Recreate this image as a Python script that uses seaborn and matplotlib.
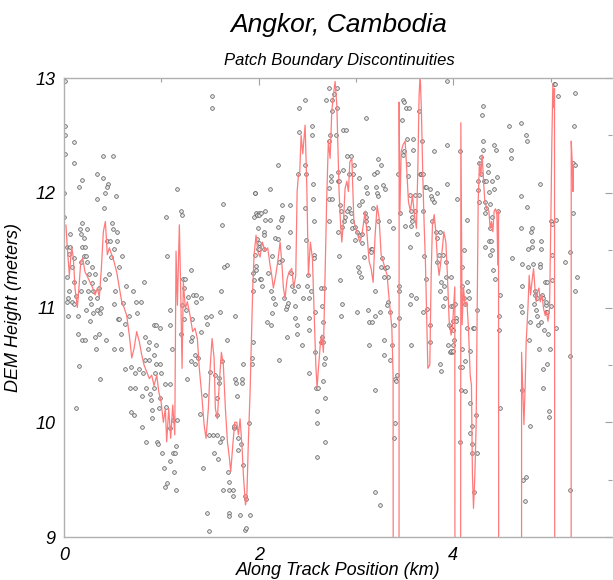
import numpy as np
import pandas as pd
import matplotlib
matplotlib.use("Agg")
import matplotlib.pyplot as plt
from matplotlib.ticker import MultipleLocator
import seaborn as sns

# scattered DEM samples, west part (0 - 2 km)
km_west = [0.01,0.01,0.01,0.01,0.00,0.00,0.10,0.10,0.40,0.50,
           0.34,0.40,0.19,0.15,0.45,0.44,0.42,0.34,0.53,0.41,
           0.18,0.16,0.24,0.17,0.21,0.06,0.49,0.50,0.54,0.44,
           0.47,0.54,0.03,0.06,0.19,0.22,0.05,0.10,0.21,0.23,
           0.51,0.48,0.60,0.17,0.24,0.08,0.29,0.57,0.03,0.26,
           0.32,0.46,0.10,0.21,0.29,0.42,0.64,0.05,0.17,0.25,
           0.30,0.36,0.52,0.71,0.82,0.04,0.08,0.03,0.12,0.27,
           0.34,0.10,0.28,0.38,0.34,0.37,0.51,0.61,0.74,0.79,
           0.04,0.14,0.23,0.30,0.67,0.75,0.55,0.57,0.27,0.63,
           0.14,0.36,0.59,0.92,0.95,1.09,0.99,0.18,0.22,0.43,
           0.32,0.87,0.83,0.33,0.51,0.59,0.86,0.95,0.92,1.11,
           0.15,0.37,0.63,0.69,0.77,0.83,0.87,0.95,0.99,1.00,
           0.93,0.81,0.73,0.68,0.73,0.80,0.84,0.88,0.89,0.92,
           0.99,1.04,1.09,0.12,0.69,0.72,0.80,0.90,0.90,0.98,
           1.05,1.12,1.16,1.09,0.84,0.96,0.97,1.01,1.12,1.14,
           1.09,1.15,1.13,1.03,1.06,1.04,1.15,1.05,1.06,1.16,
           1.20,1.21,1.09,1.20,1.22,1.24,1.23,1.27,1.21,1.25,
           1.23,1.31,1.33,1.36,1.36,1.41,1.30,1.30,1.32,1.35,
           1.30,1.35,1.38,1.26,1.41,1.46,1.47,1.51,1.40,1.45,
           1.43,1.47,1.49,1.49,1.53,1.57,1.54,1.58,1.60,1.62,
           1.63,1.57,1.57,1.50,1.55,1.59,1.59,1.62,1.60,1.61,
           1.64,1.62,1.63,1.67,1.67,1.68,1.69,1.70,1.70,1.69,
           1.74,1.74,1.75,1.75,1.79,1.79,1.82,1.84,1.76,1.76,
           1.77,1.78,1.83,1.83,1.84,1.81,1.86,1.87,1.86,1.87,
           1.90,1.91,1.93,1.93,1.94,1.94,1.95,1.94,1.95,1.97,
           2.00,1.96,1.52,1.52,1.99,2.00,2.01]
m_west = [12.97,12.58,12.50,12.34,12.00,11.79,12.44,12.26,12.32,12.32,
          12.16,12.13,12.11,12.05,12.08,12.05,12.00,11.95,11.97,11.87,
          11.74,11.68,11.68,11.64,11.61,11.64,11.74,11.68,11.66,11.58,
          11.58,11.58,11.53,11.53,11.53,11.53,11.47,11.43,11.45,11.45,
          11.51,11.44,11.45,11.40,11.40,11.35,11.35,11.35,11.27,11.29,
          11.29,11.29,11.22,11.22,11.21,11.25,11.19,11.14,11.14,11.14,
          11.14,11.17,11.14,11.14,11.22,11.08,11.05,11.05,11.10,11.08,
          11.08,11.03,11.03,11.00,10.98,10.95,11.03,11.04,11.05,11.05,
          10.93,10.93,10.98,10.95,10.93,10.95,10.90,10.90,10.88,10.86,
          10.77,10.77,10.77,10.85,10.85,10.85,10.82,10.72,10.72,10.72,
          10.74,10.70,10.74,10.64,10.64,10.64,10.64,10.67,10.59,10.64,
          10.49,10.38,10.46,10.48,10.46,10.54,10.54,10.51,10.51,10.43,
          10.43,10.43,10.43,10.30,10.30,10.23,10.30,10.25,10.19,10.30,
          10.21,10.33,10.33,10.12,10.09,10.06,9.96,10.11,10.04,10.12,
          10.13,10.02,10.02,9.95,9.83,9.83,9.81,9.73,9.73,9.73,
          9.66,9.79,9.57,9.60,9.47,9.44,9.41,11.79,11.45,12.03,
          11.84,11.81,10.98,10.77,11.25,11.25,11.17,11.09,11.02,10.98,
          10.90,10.90,11.11,11.11,11.05,11.08,11.33,10.71,10.74,10.59,
          10.53,10.51,10.56,10.38,10.79,10.92,10.86,10.93,10.07,10.24,
          9.60,9.21,9.05,9.89,9.89,9.89,9.73,9.68,9.83,9.86,
          9.41,10.06,10.21,10.44,10.41,10.39,10.34,10.53,10.96,11.14,
          11.35,11.72,11.90,11.37,10.72,9.57,9.48,9.21,9.18,9.41,
          9.41,9.36,9.95,9.97,9.86,9.76,9.81,9.63,10.93,10.38,
          10.34,10.23,10.38,10.34,10.51,9.19,9.36,9.33,9.06,9.08,
          9.99,9.19,10.51,10.56,10.70,11.14,11.24,11.30,11.79,11.82,
          11.82,12.00,12.84,12.74,11.51,11.53,11.25]

# scattered DEM samples, middle part (2 - 4 km)
km_mid = [1.96,1.98,2.00,2.02,2.07,2.07,2.12,2.12,2.20,2.24,
          2.24,2.23,2.32,2.30,2.32,1.99,2.05,1.98,2.00,2.00,
          2.05,2.05,1.96,1.97,1.97,2.02,2.03,2.10,2.14,2.17,
          2.20,2.20,2.21,2.24,2.15,2.13,2.17,2.14,2.13,2.09,
          2.21,2.26,2.28,2.29,2.30,2.29,2.33,2.34,2.36,2.37,
          2.37,2.39,2.39,2.40,2.44,2.46,2.41,2.41,2.48,2.48,
          2.49,2.40,2.48,2.49,2.50,2.51,2.52,2.52,2.52,2.52,
          2.54,2.55,2.55,2.56,2.56,2.57,2.57,2.57,2.58,2.58,
          2.59,2.61,2.60,2.60,2.60,2.64,2.67,2.65,2.65,2.64,
          2.66,2.66,2.67,2.68,2.66,2.68,2.68,2.69,2.72,2.75,
          2.77,2.80,2.80,2.72,2.72,2.72,2.72,2.73,2.75,2.74,
          2.74,2.75,2.79,2.81,2.82,2.83,2.87,2.87,2.90,2.91,
          2.93,2.95,2.97,2.98,2.82,2.83,2.84,2.85,2.86,2.84,
          2.85,2.86,2.88,2.89,2.91,2.93,2.95,2.96,2.96,2.99,
          2.99,3.01,3.03,3.03,3.04,3.06,3.06,3.02,3.03,3.05,
          3.01,3.06,3.08,3.10,3.10,3.11,3.09,3.10,3.10,3.12,
          3.15,3.16,3.15,3.13,3.12,3.13,3.16,3.17,3.18,3.19,
          3.19,3.20,3.21,3.22,3.22,3.23,3.26,3.23,3.23,3.25,
          3.26,3.27,3.28,3.30,3.29,3.30,3.29,3.29,3.32,3.33,
          3.33,3.32,3.34,3.35,3.35,3.37,3.38,3.39,3.40,3.41,
          3.42,3.39,3.40,3.19,3.25,3.44,3.44,3.44,3.43,3.45,
          3.47,3.48,3.49,3.51,3.54,3.49,3.48,3.52,3.53,3.53,
          3.50,3.56,3.55,3.56,3.58,3.58,3.57,3.55,3.55,3.57,
          3.59,3.59,3.61,3.61,3.62,3.63,3.65,3.65,3.68,3.66,
          3.67,3.69,3.69,3.69,3.70,3.71,3.72,3.72,3.73,3.76,
          3.76,3.76,3.77,3.78,3.80,3.80,3.78,3.82,3.83,3.83,
          3.83,3.85,3.86,3.86,3.86,3.87,3.87,3.89,3.89,3.90,
          3.91,3.92,3.93,3.93,3.93,3.92,3.96,3.98,3.95,3.97,
          3.99,4.00]
m_mid = [12.00,11.81,11.81,11.82,11.84,11.76,11.76,12.03,12.24,11.89,
         11.79,11.76,11.89,11.53,11.66,11.69,11.66,11.60,11.56,11.51,
         11.63,11.51,11.46,11.36,11.33,11.25,11.19,11.30,11.45,11.61,
         11.70,11.60,11.40,11.41,11.08,11.14,11.03,10.95,10.85,10.87,
         10.54,11.08,10.99,11.01,11.04,10.74,11.30,11.19,11.14,11.01,
         10.91,10.85,10.77,11.19,10.67,11.08,12.74,12.53,12.81,12.24,
         12.16,12.16,11.87,11.59,11.19,11.28,11.08,10.91,10.80,10.43,
         11.14,12.58,12.50,12.08,11.95,11.75,11.46,11.43,10.96,10.61,
         10.30,10.30,10.10,9.99,9.70,11.17,11.17,11.01,10.74,10.70,
         10.87,10.70,10.51,10.56,10.36,10.21,9.83,12.81,12.91,12.81,
         12.86,12.91,12.74,12.45,12.04,11.95,11.75,12.50,12.71,12.15,
         12.10,11.95,12.50,12.18,12.10,12.10,12.20,12.55,12.55,12.32,
         12.16,12.32,12.16,12.24,11.66,11.45,11.89,11.84,11.70,11.24,
         10.93,11.03,11.75,11.79,11.84,11.87,11.82,11.75,11.69,11.70,
         11.59,11.66,11.89,12.13,11.63,11.64,11.93,11.35,11.31,11.27,
         10.96,11.56,11.44,12.65,12.05,12.00,11.82,11.79,11.75,11.69,
         11.51,11.51,11.48,10.67,10.98,10.87,10.87,11.87,12.16,10.28,
         10.93,11.14,12.05,12.18,12.00,12.29,12.24,11.97,11.75,10.96,
         11.35,11.43,12.07,12.03,11.27,11.34,10.59,10.72,11.35,11.27,
         11.05,11.02,11.75,10.96,10.54,10.67,11.69,10.85,10.38,10.36,
         10.41,9.86,9.99,9.39,9.28,11.19,11.14,10.91,12.16,11.82,
         12.63,12.81,12.79,12.74,12.74,12.36,12.33,12.47,12.25,12.15,
         11.71,11.71,11.98,11.84,11.79,11.75,11.11,11.53,11.03,10.67,
         12.47,12.37,11.98,11.84,11.08,11.64,11.98,12.71,12.45,12.16,
         12.16,12.16,11.84,10.96,11.45,12.05,12.05,11.25,10.99,10.85,
         10.70,12.03,11.97,11.95,11.92,12.36,11.75,11.66,12.00,11.61,
         11.40,11.46,11.14,11.66,10.51,10.45,11.22,11.46,11.01,11.19,
         11.08,11.40,12.42,12.97,12.08,11.27,10.85,10.82,10.67,10.61,
         10.61,10.80]

# scattered DEM samples, east part (4 km - end)
km_east = [3.98,3.98,4.00,4.00,3.98,4.00,4.00,4.01,4.02,4.03,
           4.03,4.04,4.07,4.09,4.11,4.09,4.11,4.12,4.14,4.14,
           4.15,4.16,4.14,4.20,4.21,4.07,4.09,4.09,4.12,4.12,
           4.08,4.07,4.17,4.17,4.17,4.19,4.19,4.19,4.21,4.23,
           4.24,4.24,4.26,4.25,4.25,4.26,4.28,4.28,4.29,4.30,
           4.30,4.30,4.31,4.32,4.33,4.34,4.34,4.36,4.36,4.37,
           4.38,4.38,4.37,4.39,4.40,4.40,4.40,4.33,4.38,4.41,
           4.42,4.43,4.42,4.44,4.45,4.46,4.47,4.47,4.48,4.48,
           4.57,4.59,4.59,4.60,4.69,4.75,4.76,4.69,4.69,4.71,
           4.71,4.70,4.71,4.71,4.72,4.75,4.74,4.76,4.77,4.77,
           4.79,4.78,4.79,4.80,4.81,4.81,4.81,4.82,4.83,4.84,
           4.84,4.85,4.86,4.86,4.87,4.88,4.89,4.89,4.90,4.90,
           4.89,4.90,4.91,4.92,4.92,4.92,4.93,4.94,4.95,4.95,
           4.95,4.96,4.96,4.96,4.97,4.98,4.98,4.99,5.00,5.00,
           5.01,5.01,5.01,5.03,5.04,5.07,5.05,5.05,5.15,5.20,
           5.20,5.20,5.23,5.23,5.24,5.25,5.25,5.25,5.27]
m_east = [11.27,11.01,11.01,10.88,10.62,10.62,10.67,10.72,11.03,10.91,
          10.88,11.95,12.36,11.35,11.50,11.19,11.08,11.03,11.22,11.76,
          11.14,11.08,10.82,10.82,10.82,10.48,10.64,10.48,10.53,10.27,
          10.28,9.83,10.62,10.17,9.91,9.97,9.81,9.73,9.39,10.06,
          9.73,10.98,11.92,12.02,12.10,12.26,12.31,12.16,12.68,12.76,
          12.45,12.37,12.10,11.92,11.82,11.87,12.10,12.24,12.18,12.01,
          11.90,11.69,11.58,11.58,12.10,11.79,11.50,11.53,11.46,11.33,
          12.42,11.25,12.03,12.37,12.14,11.84,10.93,10.80,11.11,10.12,
          12.58,12.37,12.30,11.43,12.61,12.50,12.45,11.97,11.69,11.38,
          11.19,11.01,10.96,10.28,9.50,9.52,9.31,11.88,11.35,11.51,
          9.97,10.72,10.87,11.66,11.69,11.58,11.53,11.38,11.03,11.14,
          11.11,10.98,11.08,10.93,10.85,10.64,11.38,11.35,11.58,11.51,
          12.08,10.87,11.11,10.30,10.46,11.08,10.80,11.22,11.02,10.96,
          11.05,11.22,10.51,10.96,10.77,10.10,10.05,10.64,11.01,11.75,
          11.46,11.24,11.73,12.95,12.95,12.84,11.76,10.82,11.40,11.48,
          10.58,9.41,11.82,12.26,12.58,12.24,11.14,12.87,11.27]

# filtered profile (0 = dropout, drawn off the bottom of the plot)
line_km = [0.02,0.034,0.055,0.079,0.096,0.113,0.137,0.151,0.172,0.192,
           0.216,0.240,0.267,0.295,0.319,0.343,0.363,0.384,0.404,0.425,
           0.445,0.466,0.490,0.514,0.541,0.569,0.593,0.617,0.644,0.671,
           0.696,0.719,0.747,0.774,0.798,0.822,0.850,0.877,0.901,0.925,
           0.953,0.973,0.997,1.021,1.041,1.055,1.076,1.096,1.117,1.138,
           1.151,1.165,1.185,1.199,1.213,1.226,1.247,1.267,1.295,1.322,
           1.346,1.370,1.390,1.415,1.439,1.459,1.483,1.501,1.521,1.542,
           1.555,1.576,1.596,1.617,1.637,1.658,1.679,1.699,1.713,1.734,
           1.754,1.775,1.792,1.809,1.830,1.843,1.864,1.878,1.894,1.912,
           1.925,1.939,1.953,1.973,1.990,2.014,2.038,2.066,2.093,2.117,
           2.134,2.151,2.175,2.196,2.220,2.237,2.254,2.271,2.292,2.312,
           2.340,2.360,2.381,2.395,2.408,2.422,2.436,2.453,2.477,2.494,
           2.511,2.531,2.552,2.569,2.587,2.600,2.614,2.635,2.648,2.665,
           2.682,2.699,2.716,2.734,2.751,2.768,2.785,2.803,2.813,2.826,
           2.840,2.854,2.871,2.888,2.906,2.922,2.937,2.957,2.978,2.998,
           3.019,3.039,3.060,3.080,3.094,3.114,3.135,3.155,3.176,3.196,
           3.217,3.237,3.258,3.279,3.299,3.320,3.333,3.350,3.368,3.381,
           3.388,3.440,3.443,3.450,3.464,3.484,3.505,3.522,3.539,3.559,
           3.580,3.600,3.621,3.635,3.648,3.659,3.672,3.686,3.700,3.713,
           3.724,3.738,3.758,3.772,3.785,3.803,3.820,3.837,3.854,3.871,
           3.888,3.902,3.923,3.939,3.957,3.977,3.990,4.003,4.015,4.020,
           4.070,4.077,4.090,4.104,4.121,4.139,4.155,4.173,4.186,4.196,
           4.207,4.221,4.234,4.245,4.255,4.268,4.282,4.296,4.310,4.324,
           4.344,4.365,4.378,4.392,4.406,4.419,4.433,4.447,4.457,4.464,
           4.470,4.700,4.701,4.714,4.725,4.738,4.748,4.766,4.779,4.793,
           4.807,4.824,4.838,4.851,4.865,4.879,4.892,4.910,4.927,4.944,
           4.957,4.972,4.988,5.002,5.012,5.022,5.033,5.039,5.046,5.208,
           5.211,5.221,5.228,5.234]
line_m = [11.72,11.52,11.28,11.53,11.43,11.17,11.00,11.14,11.40,11.43,
          11.31,11.27,11.22,11.17,11.11,11.17,11.09,11.34,11.66,11.75,
          11.46,11.52,11.46,11.40,11.31,11.17,11.05,11.00,10.93,10.76,
          10.56,10.64,10.79,10.70,10.59,10.50,10.44,10.38,10.41,10.32,
          10.41,10.27,10.18,10.00,10.12,9.83,10.12,9.86,10.15,9.89,
          11.49,11.02,11.72,11.14,10.47,11.22,10.99,11.05,10.93,10.79,
          10.82,10.73,10.47,10.24,9.98,9.86,10.12,10.47,10.73,10.56,
          10.12,10.03,10.35,10.61,10.50,10.12,9.83,9.69,9.57,9.80,
          10.00,10.00,9.89,10.03,9.77,9.54,9.28,9.34,9.83,10.27,
          10.70,11.17,11.46,11.63,11.49,11.44,11.57,11.49,11.52,11.37,
          11.28,11.17,11.28,11.40,11.57,11.40,11.17,11.08,11.25,11.31,
          11.34,11.17,11.28,12.01,12.15,12.18,12.50,12.34,12.59,12.07,
          11.28,11.57,11.43,10.99,10.50,10.30,10.47,10.70,10.76,10.61,
          11.28,11.95,12.45,12.30,12.71,12.85,12.97,12.76,12.42,12.01,
          11.75,11.57,11.75,12.04,12.10,12.01,12.27,12.30,11.75,11.69,
          11.63,11.57,11.63,11.75,11.84,11.63,11.40,11.34,11.22,11.63,
          11.89,11.78,11.46,11.40,11.34,11.28,11.14,10.99,10.82,10.41,
          0.0,0.0,12.79,11.81,12.36,12.42,12.45,12.18,11.92,11.84,
          11.98,11.81,11.69,12.21,12.85,13.03,12.71,12.15,11.72,11.40,
          10.99,10.47,10.50,11.28,11.72,11.81,11.66,11.40,11.28,11.40,
          11.52,11.66,11.57,11.28,10.88,10.76,10.82,11.00,11.18,0.0,
          0.0,12.61,10.85,11.17,11.02,11.05,10.82,10.41,10.32,9.54,
          9.25,9.54,9.98,10.99,11.92,12.27,12.15,12.33,12.10,11.92,
          11.86,11.84,11.69,11.75,11.66,11.84,11.86,11.81,11.37,11.84,
          0.0,0.0,10.61,10.27,9.98,10.32,10.70,10.99,11.28,11.11,
          11.22,11.34,11.17,11.05,11.14,11.17,11.05,11.11,10.99,10.93,
          10.96,10.88,10.99,11.78,12.45,12.94,12.74,12.91,0.0,0.0,
          12.45,12.27,12.01,12.24]

title = "Angkor, Cambodia"
subtitle = "Patch Boundary Discontinuities"
x_label = "Along Track Position (km)"
y_label = "DEM Height (meters)"

sns.set_style("white")
plt.rcParams['font.family'] = ['Liberation Sans', 'DejaVu Sans']
plt.rcParams['font.style'] = 'italic'
plt.rcParams['text.color'] = 'black'
plt.rcParams['axes.labelcolor'] = 'black'

points = pd.DataFrame({'km': km_west + km_mid + km_east,
                       'm': m_west + m_mid + m_east})
profile = pd.DataFrame({'km': line_km, 'm': line_m})

fig = plt.figure(figsize=(6.13, 5.80), dpi=100)
ax = fig.add_axes([0.1044, 0.0741, 0.894, 0.7914])

sns.lineplot(data=profile, x='km', y='m', sort=False, estimator=None,
             color='#ff7a7a', linewidth=0.9, ax=ax)
sns.scatterplot(data=points, x='km', y='m', marker='o', s=7,
                facecolor='#e4e4e4', edgecolor='#555555', linewidth=0.5, ax=ax)

ax.set_xlim(0, 5.63)
ax.set_ylim(9, 13)
ax.xaxis.set_major_locator(MultipleLocator(2))
ax.xaxis.set_minor_locator(MultipleLocator(1))
ax.yaxis.set_major_locator(MultipleLocator(1))
ax.yaxis.set_minor_locator(MultipleLocator(0.5))

for side in ['left', 'top', 'bottom']:
    ax.spines[side].set_color('#b0b0b0')
    ax.spines[side].set_linewidth(1.0)
ax.spines['right'].set_visible(False)

ax.tick_params(which='both', direction='in', top=True, right=True,
               color='#a0a0a0', width=0.8, labelcolor='black')
ax.tick_params(which='major', length=5, labelsize=13)
ax.tick_params(which='minor', length=3)
ax.tick_params(axis='x', which='major', pad=7)
ax.tick_params(axis='y', which='major', pad=6)

ax.set_xlabel(x_label, fontsize=13, labelpad=-1)
ax.set_ylabel(y_label, fontsize=13, labelpad=10)

cx = 0.553
fig.text(cx, 0.945, title, ha='center', va='baseline', fontsize=19)
fig.text(cx, 0.888, subtitle, ha='center', va='baseline', fontsize=12)

fig.savefig('out.png', dpi=100)
